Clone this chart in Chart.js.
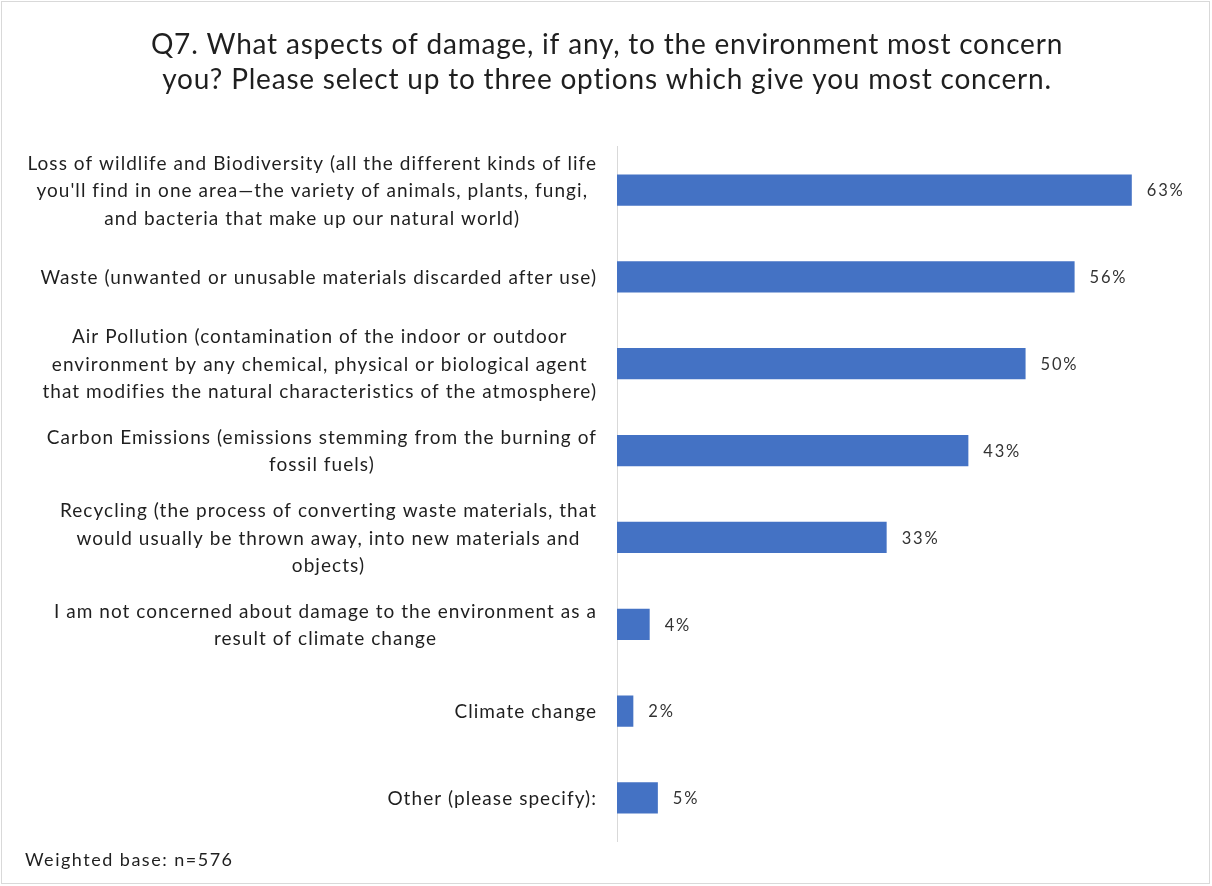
<!DOCTYPE html>
<html>
<head>
<meta charset="utf-8">
<title>Q7 environment concerns</title>
<script src="https://cdn.jsdelivr.net/npm/chart.js@4.4.1/dist/chart.umd.min.js"></script>
<style>
  html, body { margin: 0; padding: 0; background: #ffffff; }
  #wrap { width: 1212px; height: 886px; position: relative; }
  canvas { display: block; }
</style>
</head>
<body>
<div id="wrap"><canvas id="chart" width="1212" height="886"></canvas></div>
<script>
// Answer options, each split into the lines shown beside its bar
const categories = [
  ["Loss of wildlife and Biodiversity (all the different kinds of life",
   "you'll find in one area\u2014the variety of animals, plants, fungi,",
   "and bacteria that make up our natural world)"],
  ["Waste (unwanted or unusable materials discarded after use)"],
  ["Air Pollution (contamination of the indoor or outdoor",
   "environment by any chemical, physical or biological agent",
   "that modifies the natural characteristics of the atmosphere)"],
  ["Carbon Emissions (emissions stemming from the burning of",
   "fossil fuels)"],
  ["Recycling (the process of converting waste materials, that",
   "would usually be thrown away, into new materials and",
   "objects)"],
  ["I am not concerned about damage to the environment as a",
   "result of climate change"],
  ["Climate change"],
  ["Other (please specify):"]
];

// Share of respondents choosing each option (%)
const shares = [63, 56, 50, 43, 33, 4, 2, 5];

const titleLines = [
  "Q7. What aspects of damage, if any, to the environment most concern",
  "you? Please select up to three options which give you most concern."
];
const baseNote = "Weighted base: n=576";

const FONT = "Lato, 'Open Sans', sans-serif";
const TEXT = "#1f1f1f";
const BAR = "#4472C4";

function spaced(ctx, px) {
  if ('letterSpacing' in ctx) ctx.letterSpacing = px + 'px';
}

// Frame, title and base note
const frame = {
  id: 'frame',
  beforeDraw(chart) {
    const { ctx, width, height } = chart;
    ctx.save();
    ctx.fillStyle = '#ffffff';
    ctx.fillRect(0, 0, width, height);
    ctx.strokeStyle = '#d9d9d9';
    ctx.lineWidth = 1;
    ctx.strokeRect(1.5, 1.5, width - 4, height - 4);
    ctx.restore();
  },
  afterDraw(chart) {
    const { ctx } = chart;
    ctx.save();
    ctx.fillStyle = TEXT;
    ctx.textBaseline = 'middle';
    ctx.font = "28px " + FONT;
    spaced(ctx, 0.8);
    ctx.textAlign = 'center';
    titleLines.forEach((t, k) => ctx.fillText(t, 607, 45 + k * 35));
    ctx.font = "18px " + FONT;
    spaced(ctx, 1.5);
    ctx.textAlign = 'left';
    ctx.fillText(baseNote, 25, 860);
    ctx.restore();
  }
};

// Category labels: each block sits right-aligned against the axis,
// with its lines centred within the block.
const blockLabels = {
  id: 'blockLabels',
  afterDraw(chart) {
    const { ctx, chartArea } = chart;
    const y = chart.scales.y;
    const right = chartArea.left - 20;
    const lineH = 27.5;
    ctx.save();
    ctx.font = "19px " + FONT;
    spaced(ctx, 1.05);
    ctx.fillStyle = TEXT;
    ctx.textAlign = 'center';
    ctx.textBaseline = 'middle';
    categories.forEach((lines, i) => {
      const cy = y.getPixelForValue(i);
      const w = Math.max(...lines.map(l => ctx.measureText(l).width));
      const cx = right - w / 2;
      const y0 = cy - (lines.length - 1) * lineH / 2;
      lines.forEach((l, k) => ctx.fillText(l, cx, y0 + 1 + k * lineH));
    });
    ctx.restore();
  }
};

// Value labels just past the end of each bar
const valueLabels = {
  id: 'valueLabels',
  afterDatasetsDraw(chart) {
    const { ctx } = chart;
    const meta = chart.getDatasetMeta(0);
    ctx.save();
    ctx.font = "16.5px " + FONT;
    spaced(ctx, 1.8);
    ctx.fillStyle = "#333333";
    ctx.textAlign = 'left';
    ctx.textBaseline = 'middle';
    meta.data.forEach((bar, i) => {
      ctx.fillText(shares[i] + "%", bar.x + 15, bar.y + 1);
    });
    ctx.restore();
  }
};

new Chart(document.getElementById('chart'), {
  type: 'bar',
  data: {
    labels: categories,
    datasets: [{
      data: shares,
      backgroundColor: BAR,
      borderWidth: 0,
      categoryPercentage: 1,
      barPercentage: 0.36
    }]
  },
  options: {
    indexAxis: 'y',
    responsive: false,
    animation: false,
    devicePixelRatio: 1,
    layout: { padding: { left: 25, right: 23, top: 146.6, bottom: 44.6 } },
    scales: {
      x: {
        display: false,
        min: 0,
        max: 70
      },
      y: {
        grid: { display: false },
        border: { display: true, color: '#d9d9d9', width: 1 },
        ticks: { display: false },
        afterFit(scale) { scale.width = 592; }
      }
    },
    plugins: {
      legend: { display: false },
      tooltip: { enabled: false },
      title: { display: false }
    }
  },
  plugins: [frame, blockLabels, valueLabels]
});
</script>
</body>
</html>
